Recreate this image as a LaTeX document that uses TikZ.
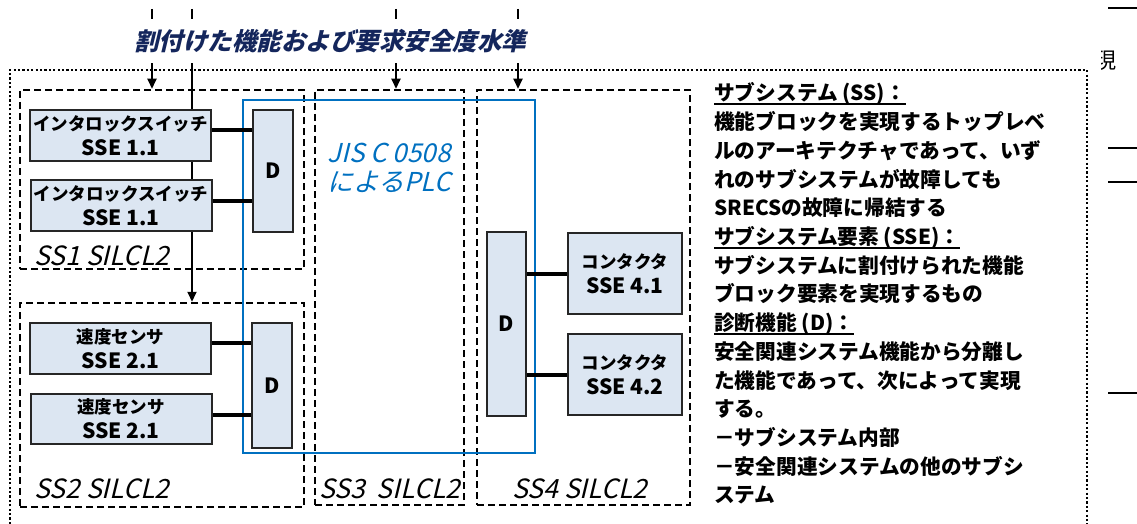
\documentclass[tikz,border=0pt]{standalone}
\usepackage{fontspec}
\setmainfont{Noto Sans CJK JP}
\newfontfamily\slantjp{Noto Sans CJK JP}[FakeSlant=0.24]
\usepackage{xcolor}
\definecolor{titlenavy}{RGB}{20, 38, 92}
\definecolor{plcblue}{RGB}{0, 112, 192}
\definecolor{boxfill}{RGB}{220, 230, 242}
\definecolor{boxedge}{RGB}{38, 38, 38}
\usepackage{tikz}
\usetikzlibrary{arrows.meta, positioning, calc}
\newcommand{\ulined}[1]{\setbox0\hbox{#1}\rlap{\rule[-4pt]{\wd0}{1.5pt}}\box0}

\begin{document}
\begin{tikzpicture}[x=1pt, y=-1pt,
    sseblock/.style={draw=boxedge, line width=2pt, fill=boxfill, inner sep=0, minimum width=181, minimum height=51, align=center, font=\fontsize{17.5}{25}\selectfont\bfseries},
    diagblock/.style={draw=boxedge, line width=2pt, fill=boxfill, inner sep=0, minimum width=40, font=\fontsize{21}{24}\selectfont\bfseries},
    ssframe/.style={draw, line width=2.5pt, dash pattern=on 7pt off 4pt, inner sep=0},
    sslabel/.style={anchor=west, inner sep=0, font=\slantjp\fontsize{26.5}{30}\selectfont},
    link/.style={line width=4pt},
    feed/.style={line width=2pt, -{Triangle[length=10pt, width=9pt]}},
    legendline/.style={anchor=base west, inner sep=0, font=\fontsize{20.7}{28.7}\selectfont\bfseries}]
    \useasboundingbox (0,0) rectangle (1137,524);

    % outer frame and cut-off rules at the right
    \draw[line width=2.5pt, dash pattern=on 2.2pt off 2.2pt] (10,524) -- (10,70) -- (1087,70) -- (1087,524);
    \foreach \yy in {8,148,182,393}
        \draw[line width=2pt] (1108,\yy) -- (1137,\yy);
    \begin{scope}
        \clip (1101,40) rectangle (1137,80);
        \node[anchor=west, inner sep=0, font=\fontsize{22}{22}\selectfont] (cutchar) at (1094,61) {現};
    \end{scope}

    % subsystem frames
    \node[ssframe, minimum width=284, minimum height=179] (ss1) at (162,179.5) {};
    \node[ssframe, minimum width=284, minimum height=204] (ss2) at (162,405) {};
    \node[ssframe, minimum width=149, minimum height=415] (ss3) at (389.5,297.5) {};
    \node[ssframe, minimum width=213, minimum height=415] (ss4) at (583.5,297.5) {};
    \node[sslabel] (ss1lbl) at (34,256) {SS1 SILCL2};
    \node[sslabel] (ss2lbl) at (34,489) {SS2 SILCL2};
    \node[sslabel] (ss3lbl) at (319,489) {SS3\ \ SILCL2};
    \node[sslabel] (ss4lbl) at (512,489) {SS4 SILCL2};

    % allocated functions
    \coordinate (in1) at (152,9);
    \coordinate (in2) at (192,9);
    \coordinate (in3) at (396,9);
    \coordinate (in4) at (518,9);
    \draw[feed] (in1) -- (in1 |- ss1.north);
    \draw[feed] (in2) -- (in2 |- ss2.north);
    \draw[feed] (in3) -- (in3 |- ss3.north);
    \draw[feed] (in4) -- (in4 |- ss4.north);
    \node[fill=white, inner xsep=1pt, minimum height=44, text=titlenavy, font=\slantjp\fontsize{24.5}{28}\selectfont\bfseries] (alloc) at (330,41) {割付けた機能および要求安全度水準};

    % PLC
    \draw[plcblue, line width=2.5pt] (243,100) rectangle (535,453);
    \node[text=plcblue, align=center, inner sep=0, font=\slantjp\fontsize{26}{29}\selectfont] (plclbl) at (389,168) {JIS C 0508\\によるPLC};

    % SS1
    \node[sseblock] (ilk1) at (120.5,135.5) {インタロックスイッチ\\{\fontsize{21}{25}\selectfont SSE 1.1}};
    \node[sseblock] (ilk2) at (121,205.5) {インタロックスイッチ\\{\fontsize{21}{25}\selectfont SSE 1.1}};
    \node[diagblock, minimum height=122] (dg1) at (273,171) {D};
    % SS2
    \node[sseblock] (spd1) at (120.5,348.5) {速度センサ\\{\fontsize{21}{25}\selectfont SSE 2.1}};
    \node[sseblock, minimum height=50] (spd2) at (121,419) {速度センサ\\{\fontsize{21}{25}\selectfont SSE 2.1}};
    \node[diagblock, minimum height=125] (dg2) at (272,385.5) {D};
    % SS4
    \node[diagblock, minimum width=39, minimum height=184] (dg4) at (506.5,324) {D};
    \node[sseblock, minimum width=114, minimum height=81] (ct1) at (625,273.5) {コンタクタ\\{\fontsize{21}{25}\selectfont SSE 4.1}};
    \node[sseblock, minimum width=114, minimum height=81] (ct2) at (625,374.5) {コンタクタ\\{\fontsize{21}{25}\selectfont SSE 4.2}};

    \coordinate (l1) at ([yshift=5pt]ilk1.east);
    \coordinate (l2) at ([yshift=4.5pt]ilk2.east);
    \coordinate (l3) at ([yshift=5.5pt]spd1.east);
    \coordinate (l4) at ([yshift=4pt]spd2.east);
    \draw[link] (l1) -- (l1 -| dg1.west);
    \draw[link] (l2) -- (l2 -| dg1.west);
    \draw[link] (l3) -- (l3 -| dg2.west);
    \draw[link] (l4) -- (l4 -| dg2.west);
    \draw[link] (ct1.west) -- (ct1.west -| dg4.east);
    \draw[link] (ct2.west) -- (ct2.west -| dg4.east);

    % definitions
    \foreach \txt [count=\i from 0] in {\ulined{サブシステム (SS)：}, 機能ブロックを実現するトップレベ, ルのアーキテクチャであって、いず, れのサブシステムが故障しても, SRECSの故障に帰結する, \ulined{サブシステム要素 (SSE)：}, サブシステムに割付けられた機能, ブロック要素を実現するもの, \ulined{診断機能 (D)：}, 安全関連システム機能から分離し, た機能であって、次によって実現, する。, －サブシステム内部, －安全関連システムの他のサブシ, ステム}
        \node[legendline] (leg\i) at (714,101+28.7*\i) {\txt};
\end{tikzpicture}
\end{document}
